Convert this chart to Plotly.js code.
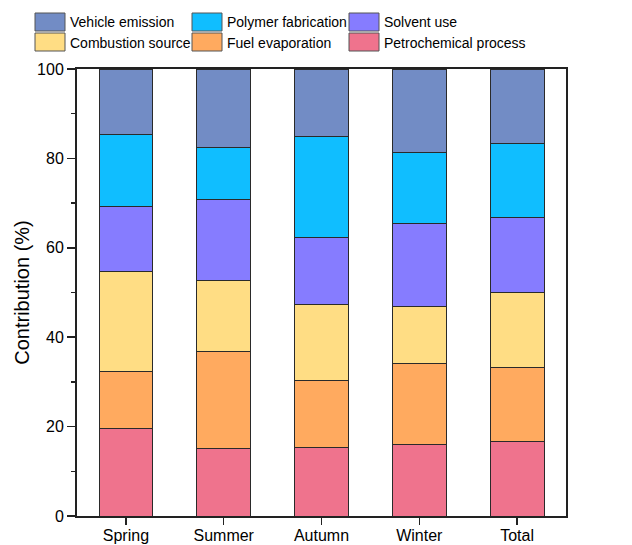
<!DOCTYPE html>
<html>
<head>
<meta charset="utf-8">
<script src="https://cdn.plot.ly/plotly-3.0.1.min.js"></script>
<style>html,body{margin:0;padding:0;background:#fff;}#chart{width:632px;height:545px;}</style>
</head>
<body>
<div id="chart"></div>
<script>
// Data
var categories = ["Spring", "Summer", "Autumn", "Winter", "Total"];
var petrochemical = [19.6, 15.1, 15.3, 16.1, 16.7];
var fuelEvaporation = [12.8, 21.7, 15.1, 18.0, 16.6];
var combustionSource = [22.4, 15.8, 17.0, 12.7, 16.7];
var solventUse = [14.4, 18.2, 14.9, 18.7, 16.7];
var polymerFabrication = [16.1, 11.7, 22.6, 15.9, 16.7];
var vehicleEmission = [14.7, 17.5, 15.1, 18.6, 16.6];
var yTickValues = [0, 20, 40, 60, 80, 100];

// stacking order bottom -> top
var series = [
  {name: "Petrochemical process", values: petrochemical, color: "#EF738D"},
  {name: "Fuel evaporation", values: fuelEvaporation, color: "#FFAA5F"},
  {name: "Combustion source", values: combustionSource, color: "#FFDD84"},
  {name: "Solvent use", values: solventUse, color: "#867CFF"},
  {name: "Polymer fabrication", values: polymerFabrication, color: "#10BEFF"},
  {name: "Vehicle emission", values: vehicleEmission, color: "#728CC5"}
];

var W = 632, H = 545;
var M = {l: 77, r: 66, t: 69, b: 29};
var pw = W - M.l - M.r, ph = H - M.t - M.b;
function px(x) { return (x - M.l) / pw; }
function py(y) { return (H - M.b - y) / ph; }

var traces = series.map(function (s) {
  return {
    type: "bar", x: categories, y: s.values, name: s.name,
    marker: {color: s.color, line: {color: "#2a2a2a", width: 1}},
    showlegend: false, hoverinfo: "x+y+name"
  };
});

// manual legend: order top-left to bottom-right
var legendOrder = ["Vehicle emission", "Polymer fabrication", "Solvent use",
                   "Combustion source", "Fuel evaporation", "Petrochemical process"];
var colX = [35, 192, 349];
var rowY = [13, 33];
var shapes = [], annotations = [];
legendOrder.forEach(function (nm, i) {
  var s = series.filter(function (d) { return d.name === nm; })[0];
  var c = i % 3, r = Math.floor(i / 3);
  var x0 = colX[c], y0 = rowY[r];
  shapes.push({type: "rect", xref: "paper", yref: "paper",
    x0: px(x0), x1: px(x0 + 30), y0: py(y0), y1: py(y0 + 18),
    fillcolor: s.color, line: {color: "#555", width: 1}});
  annotations.push({xref: "paper", yref: "paper", x: px(x0 + 33), y: py(y0 + 9.5),
    xanchor: "left", yanchor: "middle", showarrow: false, text: nm,
    font: {family: "Liberation Sans, Arial, sans-serif", size: 14, color: "#000"}});
});

var layout = {
  width: W, height: H,
  margin: M,
  paper_bgcolor: "#fff", plot_bgcolor: "#fff",
  barmode: "stack", bargap: 0.45,
  showlegend: false,
  font: {family: "Liberation Sans, Arial, sans-serif", size: 16, color: "#000"},
  xaxis: {
    type: "category", range: [-0.5, 4.5],
    showline: true, mirror: true, linecolor: "#222", linewidth: 2,
    ticks: "outside", ticklen: 7, tickwidth: 1.5, tickcolor: "#222",
    ticklabelstandoff: -3,
    showgrid: false, zeroline: false,
    tickfont: {size: 16, color: "#000"}
  },
  yaxis: {
    range: [0, 100], tickvals: yTickValues,
    showline: true, mirror: true, linecolor: "#222", linewidth: 2,
    ticks: "outside", ticklen: 8, tickwidth: 1.5, tickcolor: "#222",
    minor: {dtick: 10, ticks: "outside", ticklen: 4, tickwidth: 1.5, tickcolor: "#222", showgrid: false},
    showgrid: false, zeroline: false,
    tickfont: {size: 16, color: "#000"},
    title: {text: "Contribution (%)", font: {size: 20, color: "#000"}, standoff: 2}
  },
  shapes: shapes,
  annotations: annotations
};

Plotly.newPlot("chart", traces, layout, {displayModeBar: false, staticPlot: true});
</script>
</body>
</html>
